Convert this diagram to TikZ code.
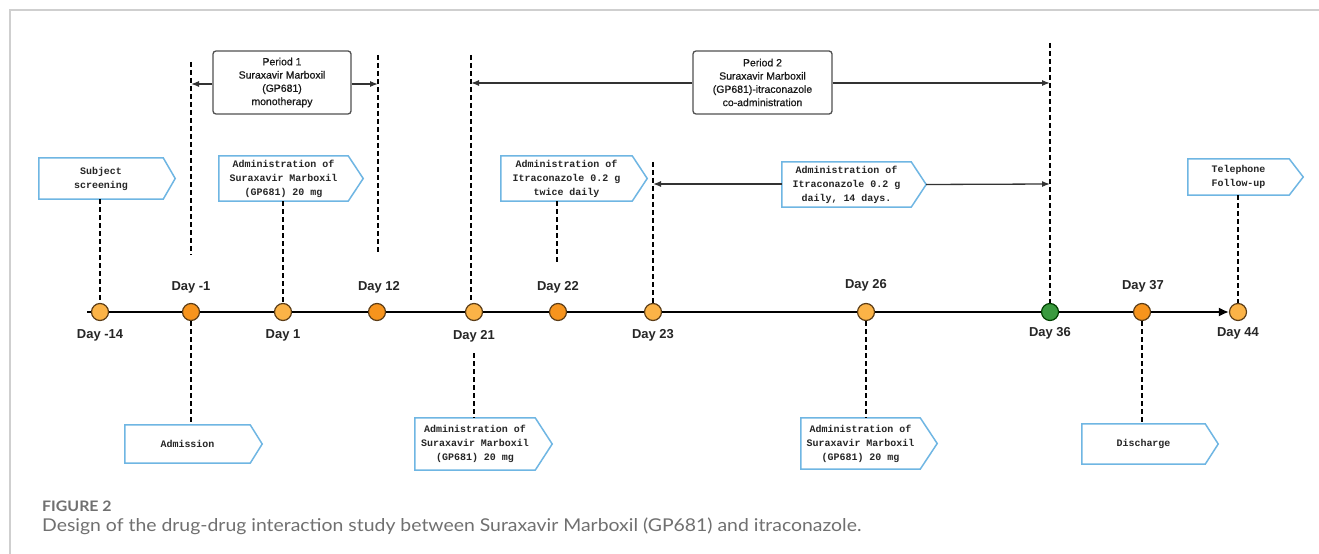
\documentclass[tikz,border=0pt]{standalone}
\usepackage{fontspec}
\setmainfont{Liberation Sans}
\newfontfamily\monof{Liberation Mono}
\newfontfamily\pfont[FakeBold=0.6]{Liberation Sans}
\newfontfamily\capf[FakeStretch=1.1]{Lato}
\usetikzlibrary{arrows.meta,calc}
\definecolor{lor}{HTML}{FBB347}
\definecolor{dor}{HTML}{F7941D}
\definecolor{grn}{HTML}{3A9A3F}
\definecolor{cedge}{HTML}{5C3D17}
\definecolor{bblue}{HTML}{6FB6E3}
\definecolor{pgray}{HTML}{505050}
\definecolor{framec}{HTML}{CFCFCF}
\definecolor{capg}{HTML}{707070}
\begin{document}
\begin{tikzpicture}[x=1bp,y=-1bp,
 circ/.style={circle,draw=cedge,line width=1.2bp,minimum size=17bp,inner sep=0},
 lo/.style={circ,fill=lor},
 do/.style={circ,fill=dor},
 gr/.style={circ,fill=grn,draw=green!25!black},
 daylbl/.style={font=\fontsize{13}{15}\selectfont\bfseries,text=black!85,inner sep=0},
 abox/.style={inner sep=0,align=center,text=black!85,font=\monof\bfseries\fontsize{10}{14}\selectfont},
 aline/.style={draw=bblue,line width=1.5bp},
 pbox/.style={draw=pgray,line width=1.3bp,rounded corners=3bp,inner sep=0,align=center,text=black!90,font=\pfont\fontsize{10.5}{13.3}\selectfont,minimum width=138bp,minimum height=63bp},
 dsh/.style={black,line width=1.5bp,dash pattern=on 5bp off 3bp},
 conn/.style={draw=black!80,line width=1.3bp,-{Latex[length=8bp,width=6bp]}},
 tline/.style={black,line width=1.8bp}
]
\useasboundingbox (0,0) rectangle (1319,554);
\fill[white] (0,0) rectangle (1319,554);
% frame
\draw[framec,line width=1.5bp] (10,554) -- (10,10) -- (1319,10);

% circles
\node[lo] (dm14) at (100,312) {};
\node[do] (dm1) at (191,312) {};
\node[lo] (d1) at (283,312) {};
\node[do] (d12) at (377,312) {};
\node[lo] (d21) at (474,312) {};
\node[do] (d22) at (558,312) {};
\node[lo] (d23) at (653,312) {};
\node[lo] (d26) at (866,312) {};
\node[gr] (d36) at (1050,312) {};
\node[do] (d37) at (1142,312) {};
\node[lo] (d44) at (1238,312) {};
\coordinate (t0) at (87,312);

% timeline
\draw[tline] (t0) -- (dm14);
\draw[tline] (dm14) -- (dm1);
\draw[tline] (dm1) -- (d1);
\draw[tline] (d1) -- (d12);
\draw[tline] (d12) -- (d21);
\draw[tline] (d21) -- (d22);
\draw[tline] (d22) -- (d23);
\draw[tline] (d23) -- (d26);
\draw[tline] (d26) -- (d36);
\draw[tline] (d36) -- (d37);
\draw[tline,-{Latex[length=10bp,width=9bp]}] (d37) -- (d44);

% day labels
\node[daylbl] (lm14) at (100,335) {Day -14};
\node[daylbl] (lm1) at (191,287) {Day -1};
\node[daylbl] (l1) at (283,335) {Day 1};
\node[daylbl] (l12) at (379,287) {Day 12};
\node[daylbl] (l21) at (474,336) {Day 21};
\node[daylbl] (l22) at (558,287) {Day 22};
\node[daylbl] (l23) at (653,335) {Day 23};
\node[daylbl] (l26) at (866,285) {Day 26};
\node[daylbl] (l36) at (1050,333) {Day 36};
\node[daylbl] (l37) at (1143,286) {Day 37};
\node[daylbl] (l44) at (1238,333) {Day 44};

% arrow boxes
\node[abox,minimum width=124bp,minimum height=41bp] (scr) at (101,178.5) {Subject\\screening};
\node[abox,minimum width=129bp,minimum height=45bp] (adm1) at (283.5,178.5) {Administration of\\Suraxavir Marboxil\\(GP681) 20 mg};
\node[abox,minimum width=131bp,minimum height=45bp] (itr2) at (566.5,178.5) {Administration of\\Itraconazole 0.2 g\\twice daily};
\node[abox,minimum width=129bp,minimum height=45bp] (itr1) at (846.5,184.5) {Administration of\\Itraconazole 0.2 g\\daily, 14 days.};
\node[abox,minimum width=101bp,minimum height=36bp] (tel) at (1238.5,177) {Telephone\\Follow-up};
\node[abox,minimum width=125bp,minimum height=38bp] (admis) at (187.5,444) {Admission};
\node[abox,minimum width=120bp,minimum height=52bp] (adm21) at (475,444) {Administration of\\Suraxavir Marboxil\\(GP681) 20 mg};
\node[abox,minimum width=119bp,minimum height=51bp] (adm26) at (860.5,443.5) {Administration of\\Suraxavir Marboxil\\(GP681) 20 mg};
\node[abox,minimum width=123bp,minimum height=40bp] (dis) at (1143.5,444) {Discharge};
\foreach \n/\t in {scr/12,adm1/15,itr2/15,itr1/15,tel/14,admis/12,adm21/17,adm26/17,dis/13}
  \draw[aline] (\n.north west) -- (\n.north east) -- ([xshift=\t bp]\n.east) -- (\n.south east) -- (\n.south west) -- cycle;

% period boxes
\node[pbox] (p1) at (282,82.5) {Period 1\\Suraxavir Marboxil\\(GP681)\\monotherapy};
\node[pbox,minimum width=139bp] (p2) at (762.5,82.5) {Period 2\\Suraxavir Marboxil\\(GP681)-itraconazole\\co-administration};

% vertical dashed guides
\coordinate (v1t) at (191,62);   \coordinate (v1b) at (191,255);
\coordinate (v12t) at (378,55);  \coordinate (v12b) at (378,255);
\coordinate (v21t) at (471,55);
\coordinate (v21b) at (474,353);
\coordinate (v22b) at (557,265);
\coordinate (v23t) at (653,162);
\coordinate (v36t) at (1050,43);
\draw[dsh] (v1t) -- (v1b);
\draw[dsh] (v12t) -- (v12b);
\draw[dsh] (v21t) -- (v21t |- d21.north);
\draw[dsh] (v21b) -- (v21b |- adm21.north);
\draw[dsh] (itr2.south -| v22b) -- (v22b);
\draw[dsh] (v23t) -- (d23.north);
\draw[dsh] (v36t) -- (d36.north);
\draw[dsh] (dm14 |- scr.south) -- (dm14.north);
\draw[dsh] (d1 |- adm1.south) -- (d1.north);
\draw[dsh] (d44 |- tel.south) -- (d44.north);
\draw[dsh] (dm1.south) -- (dm1 |- admis.north);
\draw[dsh] (d26.south) -- (d26 |- adm26.north);
\draw[dsh] (d37.south) -- (d37 |- dis.north);

% connectors
\coordinate (a1l) at (191,84);
\coordinate (a1r) at (378,84);
\coordinate (a2l) at (471,83);
\coordinate (a2r) at (1050,83);
\coordinate (a3l) at (653,184);
\coordinate (a3r) at (1050,184);
\draw[conn] (p1.west |- a1l) -- (a1l);
\draw[conn] (p1.east |- a1r) -- (a1r);
\draw[conn] (p2.west |- a2l) -- (a2l);
\draw[conn] (p2.east |- a2r) -- (a2r);
\draw[conn] (itr1.west |- a3l) -- (a3l);
\draw[conn] ([xshift=15bp]itr1.east) -- (a3r);

% caption
\node[anchor=west,inner sep=0,text=capg,font=\capf\bfseries\fontsize{14.5}{16}\selectfont] (figlbl) at (42,506) {FIGURE 2};
\node[anchor=west,inner sep=0,text=capg,font=\capf\fontsize{17.7}{20}\selectfont] (cap) at (42,526) {Design of the drug-drug interaction study between Suraxavir Marboxil (GP681) and itraconazole.};
\end{tikzpicture}
\end{document}
